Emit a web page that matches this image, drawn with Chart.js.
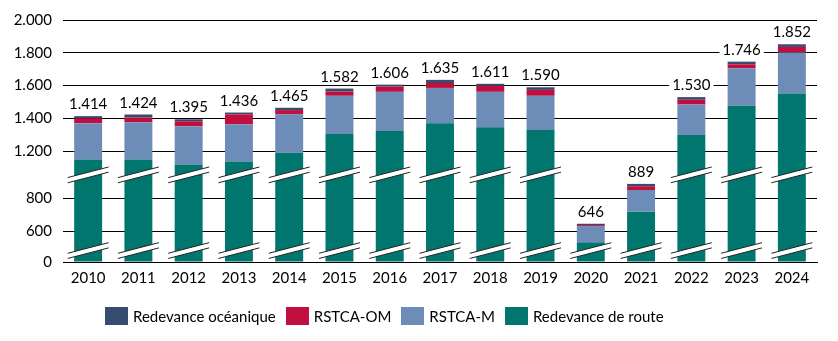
<!DOCTYPE html>
<html>
<head>
<meta charset="utf-8">
<script src="https://cdn.jsdelivr.net/npm/chart.js@4/dist/chart.umd.min.js"></script>
<style>
    html, body { margin: 0; padding: 0; background: #fff; }
    .wrap { position: relative; width: 838px; height: 341px; }
    .legend { position: absolute; left: 105px; top: 307px; display: flex; align-items: center;
              font: 15px Lato, sans-serif; color: #000; }
    .legend span.item { display: flex; align-items: center; margin-right: 10px; }
    .legend span.box { display: inline-block; width: 23px; height: 18px; margin-right: 5px; }
</style>
</head>
<body>
<div class="wrap">
    <canvas id="chargeChart" width="838" height="341"></canvas>
    <div class="legend" id="chargeLegend"></div>
</div>
<script>
// redevances par année (M€)
var years   = ['2010', '2011', '2012', '2013', '2014', '2015', '2016', '2017', '2018', '2019', '2020', '2021', '2022', '2023', '2024'];
var route   = [1149, 1149, 1119, 1137, 1191, 1305, 1323, 1371, 1347, 1329, 533, 720, 1299, 1478, 1552];
var rstcaM  = [222, 228, 234, 228, 234, 233, 239, 215, 215, 209, 99, 132, 186, 228, 250];
var rstcaOM = [30, 28, 30, 60, 26, 26, 32, 30, 36, 36, 6, 23, 29, 24, 34];
var oceanic = [13, 19, 12, 11, 14, 18, 12, 19, 13, 16, 8, 14, 16, 16, 16];
var yTicks  = [0, 600, 800, 1200, 1400, 1600, 1800, 2000];

// axe coupé : valeurs -> unités d'affichage (0-500 et 900-1100 sont tassés)
var cutValues = [0, 500, 600, 900, 1100, 2000];
var cutUnits  = [0, 87, 187, 487, 575, 1475];
var breakAt   = [400, 1000];   // position des traits de coupure

function toUnit(v) {
    var i = 0;
    while (i < cutValues.length - 2 && v > cutValues[i + 1]) i++;
    var t = (v - cutValues[i]) / (cutValues[i + 1] - cutValues[i]);
    return cutUnits[i] + t * (cutUnits[i + 1] - cutUnits[i]);
}
function fromUnit(u) {
    var i = 0;
    while (i < cutUnits.length - 2 && u > cutUnits[i + 1]) i++;
    var t = (u - cutUnits[i]) / (cutUnits[i + 1] - cutUnits[i]);
    return cutValues[i] + t * (cutValues[i + 1] - cutValues[i]);
}

class BrokenScale extends Chart.LinearScale {
    getPixelForValue(value) {
        if (value === null || value === undefined) return NaN;
        var u0 = toUnit(this.min), u1 = toUnit(this.max);
        return this.getPixelForDecimal((toUnit(value) - u0) / (u1 - u0));
    }
    getValueForPixel(pixel) {
        var u0 = toUnit(this.min), u1 = toUnit(this.max);
        return fromUnit(u0 + this.getDecimalForPixel(pixel) * (u1 - u0));
    }
}
BrokenScale.id = 'broken';
BrokenScale.defaults = Chart.LinearScale.defaults;
Chart.register(BrokenScale);

function fmt(v) {
    return String(v).replace(/\B(?=(\d{3})+(?!\d))/g, '.');
}

var totals = years.map(function(y, i) {
    return route[i] + rstcaM[i] + rstcaOM[i] + oceanic[i];
});

// traits obliques blancs sur les barres
var breakMarks = {
    id: 'breakMarks',
    afterDatasetsDraw: function(chart) {
        var ctx = chart.ctx;
        var y = chart.scales.y;
        var bars = chart.getDatasetMeta(0).data;
        ctx.save();
        bars.forEach(function(bar, i) {
            breakAt.forEach(function(v) {
                if (totals[i] < v + 100) return;
                var yc = y.getPixelForValue(v);
                var hw = bar.width / 2 + 6.5;
                var x0 = bar.x - hw, x1 = bar.x + hw;
                var rise = 5.3, gap = 2.6;
                ctx.beginPath();
                ctx.moveTo(x0, yc + rise - gap);
                ctx.lineTo(x1, yc - rise - gap);
                ctx.lineTo(x1, yc - rise + gap);
                ctx.lineTo(x0, yc + rise + gap);
                ctx.closePath();
                ctx.fillStyle = '#fff';
                ctx.fill();
                ctx.beginPath();
                ctx.moveTo(x0, yc + rise - gap);
                ctx.lineTo(x1, yc - rise - gap);
                ctx.moveTo(x0, yc + rise + gap);
                ctx.lineTo(x1, yc - rise + gap);
                ctx.strokeStyle = '#222';
                ctx.lineWidth = 1;
                ctx.stroke();
            });
        });
        ctx.restore();
    }
};

// total au-dessus de chaque barre
var totalLabels = {
    id: 'totalLabels',
    afterDatasetsDraw: function(chart) {
        var ctx = chart.ctx;
        var y = chart.scales.y;
        var bars = chart.getDatasetMeta(0).data;
        ctx.save();
        ctx.font = '15px Lato, sans-serif';
        ctx.textAlign = 'center';
        ctx.textBaseline = 'alphabetic';
        bars.forEach(function(bar, i) {
            var txt = fmt(totals[i]);
            var top = y.getPixelForValue(totals[i]);
            var w = ctx.measureText(txt).width;
            ctx.fillStyle = '#fff';
            ctx.fillRect(bar.x - w / 2 - 3, top - 20, w + 6, 16);
            ctx.fillStyle = '#000';
            ctx.fillText(txt, bar.x, top - 7);
        });
        ctx.restore();
    }
};

var series = [
    { label: 'Redevance de route', data: route,   color: '#00766F' },
    { label: 'RSTCA-M',            data: rstcaM,  color: '#6E8CB8' },
    { label: 'RSTCA-OM',           data: rstcaOM, color: '#C20E3E' },
    { label: 'Redevance océanique', data: oceanic, color: '#364C6E' }
];

var ctx = document.getElementById('chargeChart');
var chargeChart = new Chart(ctx, {
    type: 'bar',
    data: {
        labels: years,
        datasets: series.map(function(s) {
            return {
                label: s.label,
                data: s.data,
                backgroundColor: s.color,
                borderWidth: 0,
                categoryPercentage: 1,
                barPercentage: 0.556
            };
        })
    },
    options: {
        responsive: false,
        animation: false,
        devicePixelRatio: 1,
        layout: { padding: { left: 0, right: 21, top: 8, bottom: 55 } },
        plugins: {
            legend: { display: false },
            tooltip: { enabled: false }
        },
        scales: {
            x: {
                stacked: true,
                grid: { display: false },
                border: { display: true, color: '#000', width: 1 },
                ticks: { color: '#000', padding: -1, font: { family: 'Lato', size: 15 } }
            },
            y: {
                type: 'broken',
                stacked: true,
                min: 0,
                max: 2000,
                border: { display: false },
                grid: { color: '#000', lineWidth: 1, drawTicks: false },
                afterBuildTicks: function(axis) {
                    axis.ticks = yTicks.map(function(v) { return { value: v }; });
                },
                afterFit: function(axis) { axis.width = 63; },
                ticks: {
                    color: '#000',
                    padding: 11,
                    font: { family: 'Lato', size: 15 },
                    callback: function(v) { return fmt(v); }
                }
            }
        }
    },
    plugins: [breakMarks, totalLabels]
});

// légende dans l'ordre inverse de l'empilement
var legend = document.getElementById('chargeLegend');
series.slice().reverse().forEach(function(s) {
    var item = document.createElement('span');
    item.className = 'item';
    var box = document.createElement('span');
    box.className = 'box';
    box.style.background = s.color;
    item.appendChild(box);
    item.appendChild(document.createTextNode(s.label));
    legend.appendChild(item);
});
</script>
</body>
</html>
